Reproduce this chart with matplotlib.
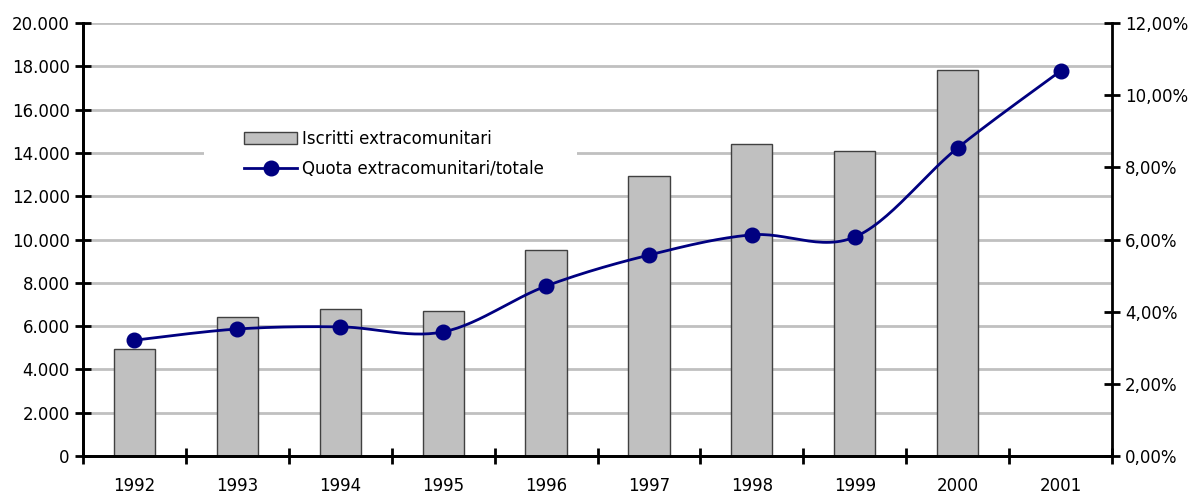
import numpy as np
import matplotlib.pyplot as plt
from matplotlib.patches import Patch, Rectangle
from matplotlib.lines import Line2D
from matplotlib.ticker import FuncFormatter, FixedLocator

# dati
anni = ['1992', '1993', '1994', '1995', '1996', '1997', '1998', '1999', '2000', '2001']
iscritti = [4920, 6400, 6790, 6700, 9510, 12930, 14410, 14090, 17830]
quota = [3.21, 3.52, 3.58, 3.44, 4.71, 5.57, 6.13, 6.07, 8.54, 10.67]

plt.rcParams['font.family'] = ['DejaVu Sans']
plt.rcParams['font.size'] = 12


def catmull(x, y, n=30):
    # curva smussata tipo Excel (Catmull-Rom)
    x = np.asarray(x, float)
    y = np.asarray(y, float)
    px = np.concatenate([[x[0]], x, [x[-1]]])
    py = np.concatenate([[y[0]], y, [y[-1]]])
    xs, ys = [], []
    t = np.linspace(0, 1, n)
    for i in range(1, len(px) - 2):
        p0, p1, p2, p3 = px[i-1], px[i], px[i+1], px[i+2]
        q0, q1, q2, q3 = py[i-1], py[i], py[i+1], py[i+2]
        bx = [p1, p1 + (p2 - p0) / 6, p2 - (p3 - p1) / 6, p2]
        by = [q1, q1 + (q2 - q0) / 6, q2 - (q3 - q1) / 6, q2]
        xs.append((1-t)**3*bx[0] + 3*(1-t)**2*t*bx[1] + 3*(1-t)*t**2*bx[2] + t**3*bx[3])
        ys.append((1-t)**3*by[0] + 3*(1-t)**2*t*by[1] + 3*(1-t)*t**2*by[2] + t**3*by[3])
    return np.concatenate(xs), np.concatenate(ys)


fig = plt.figure(figsize=(11.96, 4.94), dpi=100)
ax = fig.add_axes([0.0694, 0.0769, 0.8604, 0.8765])
ax2 = ax.twinx()

xb = np.arange(len(iscritti))
ax.bar(xb, iscritti, width=0.4, color='#c0c0c0', edgecolor='#404040', linewidth=1, zorder=2)
ax.set_axisbelow(True)
ax.set_ylim(0, 20000)
ax.set_yticks(np.arange(0, 20001, 2000))
ax.yaxis.set_major_formatter(FuncFormatter(lambda v, p: f'{int(v):,}'.replace(',', '.')))
ax.grid(axis='y', color='#c0c0c0', linewidth=2)
ax.set_xlim(-0.5, len(anni) - 0.5)
ax.xaxis.set_major_locator(FixedLocator(np.arange(-0.5, len(anni), 1.0)))
ax.xaxis.set_major_formatter(FuncFormatter(lambda v, p: ''))
ax.set_xticks(np.arange(len(anni)), anni, minor=True)
ax.tick_params(axis='x', which='minor', length=0, pad=15)
ax.tick_params(axis='both', which='major', direction='inout', length=12, width=2)

# sfondo bianco della legenda (copre la griglia)
ax.add_patch(Rectangle((204 / 1196, 299 / 494), 373 / 1196, 83 / 494,
                       transform=fig.transFigure, facecolor='white',
                       edgecolor='none', zorder=1))

xl = np.arange(len(quota))
cx, cy = catmull(xl, quota)
ax2.plot(cx, cy, color='#000080', linewidth=2, zorder=3)
ax2.plot(xl, quota, 'o', color='#000080', markersize=10.5, zorder=4)
ax2.set_ylim(0, 12)
ax2.set_yticks(np.arange(0, 12.1, 2))
ax2.yaxis.set_major_formatter(FuncFormatter(lambda v, p: f'{v:.2f}%'.replace('.', ',')))
ax2.tick_params(axis='y', direction='inout', length=12, width=2)

for a in (ax, ax2):
    a.spines['top'].set_visible(False)
    for s in ('left', 'right', 'bottom'):
        a.spines[s].set_linewidth(2)
ax.spines['right'].set_visible(False)

handles = [Patch(facecolor='#c0c0c0', edgecolor='#404040', linewidth=1),
           Line2D([], [], color='#000080', linewidth=2, marker='o', markersize=10.5)]
leg = ax2.legend(handles, ['Iscritti extracomunitari', 'Quota extracomunitari/totale'],
                 loc='upper left', bbox_to_anchor=(0.1565, 0.7535), frameon=False,
                 fontsize=12, handlelength=3.2, handletextpad=0.3, borderpad=0,
                 labelspacing=0.75, borderaxespad=0)

fig.savefig('out.png', dpi=100)
